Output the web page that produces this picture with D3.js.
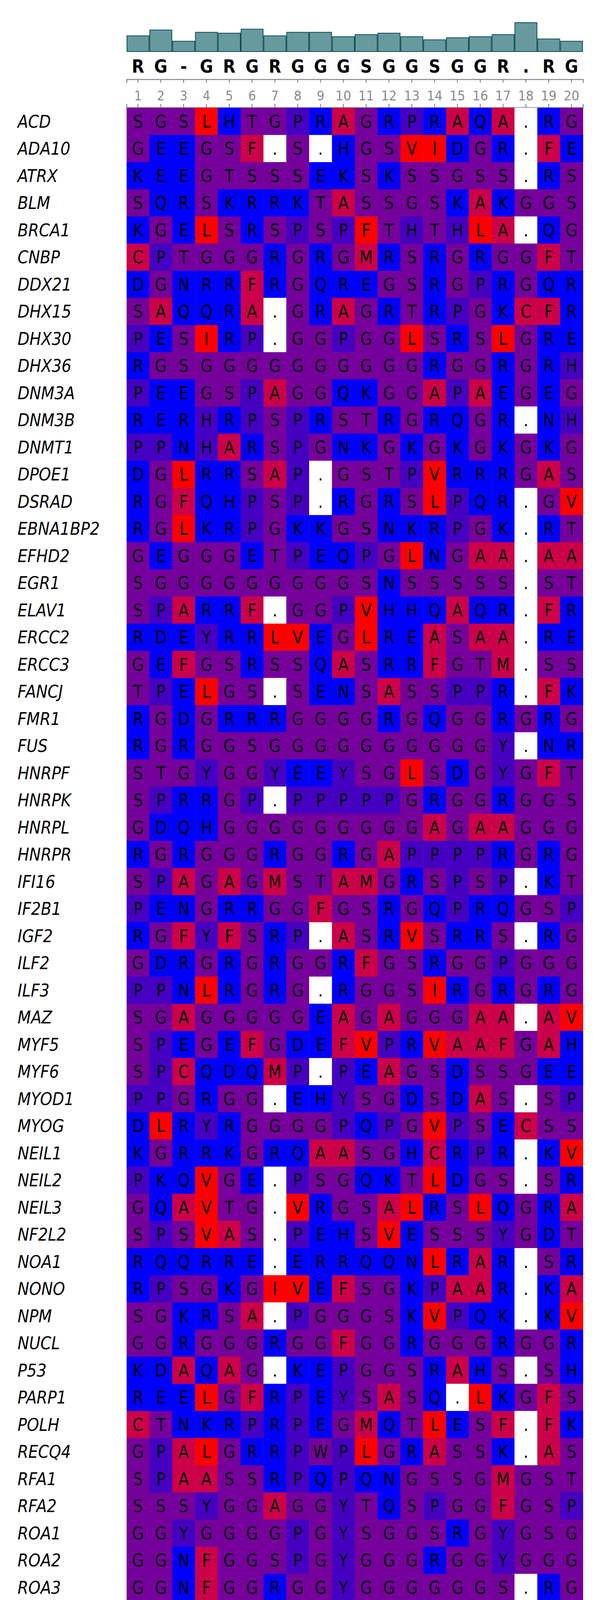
<!DOCTYPE html>
<html>
<head>
<meta charset="utf-8">
<script src="https://cdn.jsdelivr.net/npm/d3@7"></script>
<style>
  body { margin: 0; background: #fff; }
</style>
</head>
<body>
<div id="chart"></div>
<script>
// Row names of the alignment
var proteins = ["ACD","ADA10","ATRX","BLM","BRCA1","CNBP","DDX21","DHX15","DHX30","DHX36",
  "DNM3A","DNM3B","DNMT1","DPOE1","DSRAD","EBNA1BP2","EFHD2","EGR1","ELAV1","ERCC2",
  "ERCC3","FANCJ","FMR1","FUS","HNRPF","HNRPK","HNRPL","HNRPR","IFI16","IF2B1",
  "IGF2","ILF2","ILF3","MAZ","MYF5","MYF6","MYOD1","MYOG","NEIL1","NEIL2",
  "NEIL3","NF2L2","NOA1","NONO","NPM","NUCL","P53","PARP1","POLH","RECQ4",
  "RFA1","RFA2","ROA1","ROA2","ROA3","SAFB1","SAFB2","SF3B3","SFPQ","SP1",
  "SPAST","SRSF1","TADBP","TE2IP","TERF1","TERF2","TERT","TINF2","TNR4","TOP1",
  "TOPRS","U2AF2","VEGFA","YBOX1"];

// Aligned residues, one string per row
var sequences = ["SGSLHTGPRAGRPRAQA.RG","GEEGSF.S.HGSVIDGR.FE","KEEGTSSSEKSKSSGSS.RS","SQRSKRRKTASSGSKAKGGS",
  "KGELSRSPSPFTHTHLA.QG","CPTGGGRGRGMRSRGRGGFT","DGNRRFRGQREGSRGPRGQR","SAQQRA.GRAGRTRPGKCFR",
  "PESIRP.GGPGGLSRSLGRE","RGSGGGGGGGGGGRGGRGRH","PEEGSPAGGQKGGAPAEGEG","RERHRPSPRSTRGRQGR.NH",
  "PPNHARSPGNKGKGKGKGKG","DGLRRSAP.GSTPVRRRGAS","RGFQHPSP.RGRSLPQR.GV","RGLKRPGKKGSNKRPGK.RT",
  "GEGGGETPEQPGLNGAA.AA","SGGGGGGGGGSNSSSSS.ST","SPARRF.GGPVHHQAQR.FR","RDEYRRLVEGLREASAA.RE",
  "GEFGSRSSQASRRFGTM.SS","TPELGS.SENSASSPPR.FK","RGDGRRRGGGGRGQGGRGRG","RGRGGSGGGGGGGGGGY.NR",
  "STGYGGYEEYSGLSDGYGFT","SPRRGP.PPPPPGRGGRGGS","GDQHGGGGGGGGGAGAAGGG","RGRGGGRGGRGAPPPPRGRG",
  "SPAGAGMSTAMGRSPSP.KT","PENGRRGGFGSRGQPRQGSP","RGFYFSRP.ASRVSRRS.RG","GDRGRGRGGRFGSRGGPGGG",
  "PPNLRGRG.RGGSIRGRGRG","SGAGGGGGEAGAGGGAA.AV","SPEGEFGDEFVPRVAAFGAH","SPCQDQMP.PEAGSDSSGEE",
  "PPGRGG.EHYSGDSDAS.SP","DLRYRGGGGPQPGVPSECSS","KGRRKGRQAASGHCRPR.KV","PKQVGE.PSGQKTLDGS.SR",
  "GQAVTG.VRGSALRSLQGRA","SPSVAS.PEHSVESSSYGDT","RQQRRE.ERRQQNLRAR.SR","RPSGKGIVEFSGKPAAR.KA",
  "SGKRSA.PGGGSKVPQK.KV","GGRGGGRGGFGGRGGGRGGR","KDAQAG.KEPGGSRAHS.SH","REELGFRPEYSASQ.LKGFS",
  "CTNKRPRPEGMQTLESF.FK","GPALGRRPWPLGRASSK.AS","SPAASSRPQPQNGSSGMGST","SSSYGGAGGYTQSPGGFGSP",
  "GGYGGGGPGYSGGSRGYGSG","GGNFGGSPGYGGGRGGYGGG","GGNFGGRGGYGGGGGGS.RG","GGFGGQ.SRGSRPSDAR.FT",
  "RGGVAGRGGFAQGGHSQ.GH","SGCRRIVPGQFLAVDPKGRA","RDRFRSRGGGGGGFHRRGGG","GGNNGGNGNGGGAFSQA.RS",
  "RGKKKGSGGASNPVPPR.PP","RGTGRGGGGGGGGGAPR.GR","SGRFGGNPGGFGNQGGFGNS","RDDGSSMSFYVRPSPAK.RR",
  "RAFRDGRSEDFRRTRNS.AE","RAAGRRAS.RSSGRARRGRH","PGARRRGGSASRSLPLP.KR","APLGRRRV.QSQWASTRGGH",
  "RTSQGPSTRPVEVPGGR.AV","PGLFRGRGNHPKMGMLK.RR","RKRGRSRSSDSRSQSRS.GH","RSRSRDRKRRSRSRDRR.NR",
  "KKSVRG.KGKGQKRKRK.KS","SGAGSGGPGGLTSAAPAGGD"];

// Cell shade per residue: b blue, v violet, p purple, c crimson, r red, w gap
var shades = ["ppprbppvbcpbvbcbcwbp","pbbppcwpwbpprrbpbwcb","bbbpppppbbpbpppppwbp","pbbpbbbbpcppppbcbppp",
  "bpbrpbpvpvrpvpvrcwbp","cvppppbpbpcbpbpbppcp","bpbbbcbpbbbppbpvbpbb","pcbbbcwpbcpbpbvpbccb",
  "vbprbvwppvpprpbprpbb","bppppppppppppbppbpbv","vbbppvcppbbppcvcbpbp","bbbvbvpvbppbpbbpbwbv",
  "vvbvcbpvpbbpbpbpbpbp","bprbbpcvwpppvrbbbpcp","bpcbbvpvwbpbprvbbwpr","bprbbvpbbppbbbvpbwbp",
  "pbpppbpvbbvprbpccwcc","pppppppppppbpppppwpp","pvcbbcwppvrbbbcbbwcb","bbbvbbrrbprbbcpccwbb",
  "pbcppbppbcpbbcppcwpp","pvbrppwpbbpcppvvbwcb","bpbpbbbppppbpbppbpbp","bpbpppppppppppppvwbb",
  "pppvppvbbvpprpbpvpcp","pvbbpvwvvvvvpbppbppp","pbbbpppppppppcpccppp","bpbpppbppbpcvvvvbpbp",
  "pvcpcpcppccpbpvpvwbp","vbbpbbppcppbpbvbbppv","bpcvcpbvwcpbrpbbpwbp","pbbpbpbppbcppbppvppp",
  "vvbrbpbpwbppprbpbpbp","ppcpppppbcpcpppccwcr","pvbpbcpbbcrvbrcccpcb","pvcbbbcvwvbcppbpppbb",
  "vvpbppwbbvppbpbcpwpv","brbvbppppvbvprvpbcpp","bpbbbpbbccppbcbvbwbr","vbbrpbwvppbbprbppwpb",
  "pbcrppwrbppcrbprbpbc","pvprcpwvbbprbpppvpbp","bbbbbbwbbbbbbrbcbwpb","bvppbprrbcppbvccbwbc",
  "ppbbpcwvppppbrvbbwbr","ppbpppbppcppbpppbppb","bbcbcpwbbvpppbcbpwpb","bbbrpcbvbvpcpbwrbpcp",
  "cpbbbvbvbpcbprbpcwcb","pvcrpbbvpvrpbcppbwcp","pvccppbvbvbbppppcppp","pppvppcppvpbpvppcppv",
  "ppvppppvpvppppbpvppp","ppbcpppvpvpppbppvppp","ppbcppbppvpppppppwbp","ppcppbwpbppbvpbcbwcp",
  "bpprcpbppccbppbpbwpb","ppcbbrrvpbcccrbvbpbc","bbbcbpbppppppcbbbppp","ppbbppbpbpppccpbcwbp",
  "bpbbbppppcpbvrvvbwvv","bpppbpppppppppcvbwpb","ppbcppbvppcpbbppcpbp","bbbpppcpcvrbvpvcbwbb",
  "bccbbpbpbbcbbpbbpwcb","bccpbbcpwbpppbcbbpbb","vpcbbbpppcpbprvrvwbb","cvrpbbbrwbpbpcppbppb",
  "bppbpvppbvrbrvppbwcr","vprcbpbpbbvbcpcrbwbb","bbbpbpbppbpbpbpbpwpb","bpbpbbbbbbpbpbbbbwbb",
  "bbprbpwbpbpbbbbbbwbp","ppcppppvpprppccvcppb"];

// Conservation bar heights above each column (relative units)
var conservation = [90,123,59,110,105,128,90,110,110,85,97,105,85,67,79,85,97,165,72,59];
var consensus = "RG-GRGRGGGSGGSGGR.RG".split("");
var positions = d3.range(1, 21);

var shadeColor = {b: "#0000ff", v: "#4500c2", p: "#75009b", c: "#cc0048", r: "#ff0000", w: "#ffffff"};

var W = 1551, H = 5467;
var left = 324, right = 1492, gridTop = 276, rowH = 69.5;

var svg = d3.select("#chart").append("svg")
  .attr("width", W).attr("height", H);

// checkered fill for the bars
var defs = svg.append("defs");
var pat = defs.append("pattern").attr("id", "chk")
  .attr("width", 4).attr("height", 4).attr("patternUnits", "userSpaceOnUse");
pat.append("rect").attr("width", 4).attr("height", 4).attr("fill", "#9fc4c8");
pat.append("rect").attr("width", 2).attr("height", 2).attr("fill", "#2f6f76");
pat.append("rect").attr("x", 2).attr("y", 2).attr("width", 2).attr("height", 2).attr("fill", "#2f6f76");

var x = d3.scaleBand().domain(positions).range([left, right]);
var y = d3.scaleBand().domain(proteins).range([gridTop, gridTop + rowH * proteins.length]);
var hScale = d3.scaleLinear().domain([0, 165]).range([0, 74]);
var barBase = 132;

// conservation bars
svg.append("g").selectAll("rect")
  .data(conservation)
  .enter().append("rect")
    .attr("x", function(d, i) { return x(i + 1) + 1; })
    .attr("y", function(d) { return barBase - hScale(d); })
    .attr("width", x.bandwidth() - 2)
    .attr("height", function(d) { return hScale(d); })
    .attr("fill", "url(#chk)")
    .attr("stroke", "#0e4f57")
    .attr("stroke-width", 2);

// consensus letters
svg.append("g").selectAll("text")
  .data(consensus)
  .enter().append("text")
    .attr("x", function(d, i) { return x(i + 1) + x.bandwidth() / 2; })
    .attr("y", 186)
    .attr("text-anchor", "middle")
    .style("font-family", "'DejaVu Sans Condensed', 'DejaVu Sans'")
    .style("font-size", "46px")
    .style("font-weight", "bold")
    .text(function(d) { return d; });

// position axes (top and bottom of the number strip)
var axTop = svg.append("g").attr("transform", "translate(0,203)")
  .call(d3.axisBottom(x).tickSize(9).tickFormat(""));
var axBot = svg.append("g").attr("transform", "translate(0,275)")
  .call(d3.axisTop(x).tickSize(9).tickFormat(""));
[axTop, axBot].forEach(function(a) {
  a.select(".domain").attr("stroke", "#999").attr("stroke-width", 3);
  a.selectAll(".tick line").attr("stroke", "#777").attr("stroke-width", 2);
});
svg.append("g").selectAll("text")
  .data(positions)
  .enter().append("text")
    .attr("x", function(d) { return x(d) + x.bandwidth() / 2; })
    .attr("y", 257)
    .attr("text-anchor", "middle")
    .attr("fill", "#8a8a8a")
    .style("font-family", "'Liberation Sans Narrow', 'DejaVu Sans Condensed'")
    .style("font-size", "34px")
    .attr("textLength", function(d) { return d > 9 ? 40 : null; })
    .attr("lengthAdjust", "spacingAndGlyphs")
    .text(function(d) { return d; });

// cells
var cells = [];
proteins.forEach(function(p, r) {
  for (var c = 0; c < 20; c++) {
    cells.push({row: p, col: c + 1, aa: sequences[r][c], shade: shades[r][c]});
  }
});

var g = svg.append("g");
g.selectAll("rect")
  .data(cells)
  .enter().append("rect")
    .attr("x", function(d) { return x(d.col); })
    .attr("y", function(d) { return y(d.row); })
    .attr("width", x.bandwidth() + 0.5)
    .attr("height", y.bandwidth() + 0.5)
    .attr("fill", function(d) { return shadeColor[d.shade] || "#75009b"; });

g.selectAll("text")
  .data(cells)
  .enter().append("text")
    .attr("x", function(d) { return x(d.col) + x.bandwidth() / 2; })
    .attr("y", function(d) { return y(d.row) + y.bandwidth() / 2 + 16; })
    .attr("text-anchor", "middle")
    .style("font-family", "'DejaVu Sans Condensed', 'DejaVu Sans'")
    .style("font-size", "44px")
    .attr("fill", "#000")
    .text(function(d) { return d.aa; });

// row labels
svg.append("g").selectAll("text")
  .data(proteins)
  .enter().append("text")
    .attr("x", 45)
    .attr("y", function(d) { return y(d) + y.bandwidth() / 2 + 16; })
    .style("font-family", "'Liberation Sans Narrow', 'DejaVu Sans Condensed'")
    .style("font-style", "italic")
    .style("font-size", "44px")
    .attr("fill", "#000")
    .text(function(d) { return d; });
</script>
</body>
</html>
